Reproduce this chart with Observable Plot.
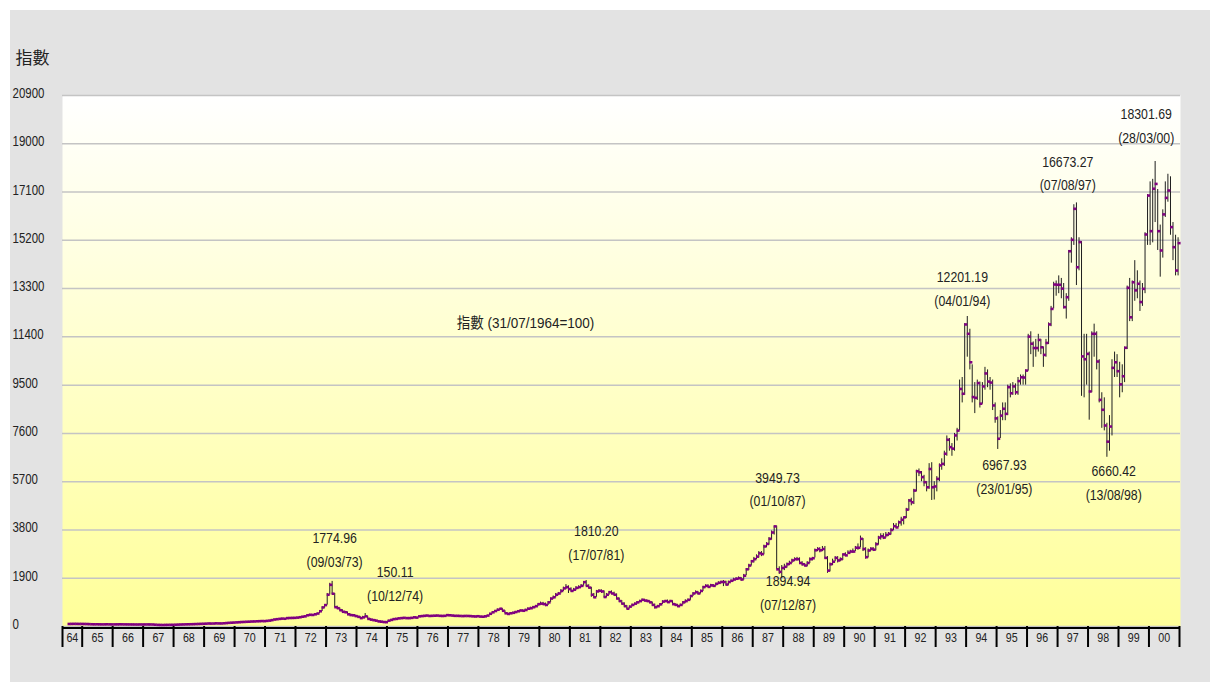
<!DOCTYPE html>
<html><head><meta charset="utf-8">
<script src="https://cdn.jsdelivr.net/npm/d3@7"></script>
<script src="https://cdn.jsdelivr.net/npm/@observablehq/plot@0.6"></script>
<style>
body{margin:0;background:#fff;}
#panel{position:absolute;left:10px;top:10px;width:1200px;height:672px;background:#e3e3e3;overflow:hidden;}
</style></head><body>
<svg width="0" height="0" style="position:absolute"><defs><linearGradient id="bgGrad" x1="0" y1="0" x2="0" y2="1"><stop offset="0%" stop-color="#ffffff"/><stop offset="100%" stop-color="#ffff99"/></linearGradient></defs></svg>
<div id="panel"></div>
<script>
const FONT = '"Liberation Sans Narrow","Arial Narrow","Liberation Sans","Noto Sans CJK TC",sans-serif';
const startYear = 1964, startMonth = 7; // first monthly bar: July 1964

const close = [
100,102,104,103,101,101,
99,97,93,88,86,87,85,83,84,86,84,82,
83,84,86,85,83,82,81,80,79,78,80,79,
80,81,80,78,70,64,61,59,62,64,65,66,
70,74,78,81,84,87,89,92,96,100,104,107,
112,118,115,117,124,121,120,126,135,144,150,155,
162,168,176,180,186,190,196,199,205,209,214,211,
222,232,251,275,288,300,310,305,330,335,338,341,
350,365,385,400,440,460,455,480,510,600,750,843,
1250,1640,1290,760,720,640,580,560,480,450,440,410,
380,330,360,400,300,270,250,230,200,190,175,171,
230,260,290,300,320,330,340,330,330,340,360,350,
400,410,420,430,415,420,425,430,420,415,420,447,
440,430,420,420,415,410,415,415,410,400,395,404,
390,385,400,430,500,560,610,660,700,620,520,495,
520,540,570,600,630,620,650,700,720,760,800,879,
900,880,850,950,1100,1150,1250,1300,1400,1500,1550,1473,
1400,1450,1520,1550,1600,1745,1600,1530,1250,1150,1380,1405,
1380,1160,1250,1350,1300,1250,1100,1000,900,800,700,783,
850,900,950,1000,1050,1020,1000,950,850,760,800,874,
980,1000,960,1000,880,850,800,850,950,1000,1050,1200,
1300,1350,1300,1400,1550,1600,1560,1620,1600,1680,1720,1752,
1750,1650,1750,1800,1850,1880,1900,1850,2000,2250,2400,2568,
2650,2750,2880,2850,3150,3250,3450,3700,3940,2250,2150,2302,
2350,2450,2500,2600,2650,2650,2500,2450,2400,2500,2650,2687,
3000,3050,3000,3050,2700,2200,2450,2550,2700,2600,2650,2837,
2800,2900,2950,2950,3100,3100,3450,3050,2730,2990,3060,3024,
3240,3500,3550,3500,3600,3650,3800,3950,3900,4100,4200,4297,
4600,4960,4890,5350,6110,6070,5880,5680,5480,6200,5480,5512,
5810,6340,6400,6800,7350,7060,7000,7520,7710,9350,9160,11888,
11520,10400,9030,9000,9580,8770,9450,9960,9640,9600,8700,8191,
7390,8300,8570,8370,9420,9180,9450,9220,9660,9810,9800,10073,
11410,11130,10960,10960,11280,10990,10690,11160,11890,12500,13460,13451,
13450,13300,12570,12960,14770,15220,16440,14140,15130,10630,10520,10730,
9250,11520,11520,10430,8920,8530,7910,7275,7870,10180,10400,10049,
9530,9850,10970,13330,12170,13550,13230,13490,12770,13290,15430,16962,
15560,17230,17420,15560,14800,16220,16870,17160,15720,14930,14010,15090
];

const high = [
100,103,105,105,103,103,
102,100,98,94,90,89,88,86,86,88,87,85,
85,86,88,88,86,84,83,82,81,80,82,81,
82,83,82,81,79,71,66,62,64,66,67,68,
72,76,80,83,86,89,91,94,98,102,106,109,
115,121,120,119,127,126,123,128,138,147,153,158,
166,172,180,184,190,194,200,203,209,213,218,216,
228,238,258,285,295,308,318,315,338,345,348,350,
358,375,395,412,455,480,470,495,525,620,770,860,
1300,1700,1775,1300,800,730,660,600,570,500,470,450,
420,385,400,510,400,310,280,260,235,215,200,185,
240,270,300,320,335,345,355,345,345,355,370,365,
410,420,430,440,430,430,435,440,430,425,430,450,
450,445,430,430,425,420,425,425,420,412,405,410,
405,395,410,440,520,580,630,690,707,700,620,530,
540,560,590,620,650,650,680,730,760,790,830,890,
960,950,920,980,1120,1200,1300,1340,1450,1550,1650,1600,
1520,1500,1570,1600,1650,1770,1810,1640,1540,1300,1420,1450,
1440,1400,1300,1380,1400,1350,1280,1120,1020,930,820,800,
880,920,980,1030,1080,1070,1040,1010,960,880,830,900,
1010,1030,1040,1030,1010,900,860,880,980,1050,1080,1210,
1330,1400,1380,1430,1580,1640,1640,1660,1650,1700,1760,1780,
1810,1780,1780,1830,1900,1920,1950,1930,2050,2280,2450,2600,
2720,2820,2950,2950,3200,3300,3500,3760,3950,3950,2350,2400,
2450,2500,2570,2650,2700,2720,2700,2550,2480,2550,2700,2720,
3050,3100,3100,3150,3150,2750,2500,2650,2750,2750,2700,2850,
2900,2980,3000,3050,3150,3250,3560,3460,3100,3050,3100,3100,
3300,3550,3650,3650,3700,3700,3850,4050,4050,4150,4300,4300,
4650,5000,5050,5400,6150,6200,6100,5950,5700,6410,6447,5700,
5900,6400,6600,6900,7500,7400,7200,7600,7800,9700,9800,11920,
12201,11700,10300,9600,9700,9620,9600,10200,10100,9800,9700,8800,
8250,8500,8800,8800,9500,9550,9600,9550,9800,9900,9900,10100,
11500,11600,11200,11300,11500,11300,11000,11300,11950,12600,13550,13600,
13800,13700,13500,13100,14800,15300,16600,16673,15300,15150,11500,11500,
10800,11600,11900,11600,10500,9200,9000,8000,8300,10500,10800,10700,
10400,10300,11000,13400,13700,13600,14400,14000,13600,13500,15500,17000,
17500,17600,18302,17200,15800,16400,17500,17800,17700,15900,15400,15300
];

const low = [
100,100,102,101,100,99,
97,95,91,86,84,84,83,81,82,83,82,80,
81,82,83,83,81,80,79,78,77,76,77,77,
78,79,78,76,68,62,59,58,59,61,63,64,
65,69,73,77,80,83,86,88,91,95,99,102,
106,110,112,113,116,118,117,119,126,134,142,148,
154,160,166,174,178,184,189,194,198,203,207,205,
208,220,230,250,272,285,298,295,302,320,328,330,
338,345,362,380,395,435,440,450,475,505,590,720,
843,1240,1250,740,680,600,560,520,460,420,410,390,
360,315,320,355,290,260,240,220,190,175,160,150,
170,225,250,280,295,315,320,320,318,325,335,338,
350,395,405,415,405,410,415,418,410,405,410,415,
432,425,415,410,405,405,408,408,400,392,388,392,
384,375,385,398,430,500,560,600,650,590,500,480,
490,515,535,560,590,590,610,640,680,700,740,780,
850,830,780,830,940,1080,1130,1230,1290,1380,1450,1300,
1350,1370,1430,1480,1530,1590,1580,1480,1150,1100,1150,1330,
1300,1120,1130,1230,1270,1200,1060,950,850,760,676,690,
770,830,890,940,990,980,960,900,800,690,740,790,
870,960,920,950,860,800,746,790,840,920,1000,1030,
1180,1280,1250,1280,1380,1520,1520,1540,1540,1580,1650,1680,
1570,1600,1620,1740,1780,1830,1850,1780,1820,2000,2200,2380,
2500,2630,2700,2750,2820,3100,3200,3400,3600,2241,2050,1895,
2200,2300,2400,2480,2560,2580,2450,2380,2350,2350,2480,2580,
2700,2950,2900,2950,2650,2093,2150,2400,2550,2500,2550,2600,
2750,2850,2900,2880,2950,3000,3100,2950,2650,2700,2950,2950,
2980,3200,3400,3420,3480,3550,3600,3780,3850,3900,3950,4000,
4250,4550,4750,4800,5300,5900,5700,5500,5300,5400,4960,4978,
5300,5700,6150,6300,6700,6900,6700,6900,7300,7700,8800,9100,
10600,10100,8800,8380,8900,8600,8750,9300,9400,9300,8500,8000,
6968,7400,8100,8100,8300,9000,9100,9100,9100,9500,9500,9500,
10050,10700,10200,10600,10800,10700,10200,10600,11100,11800,12500,13000,
13100,12900,12500,12100,12800,14300,15000,13420,14000,9059,9000,9500,
8121,9200,10600,10100,8800,7800,7700,6660,6900,7500,9800,9800,
9000,9200,9600,10900,12000,12000,12800,12900,12400,12600,13100,15000,
15000,15100,15900,14800,13750,14500,16100,16700,15400,14400,13800,13800
];

const yTicks = [0,1900,3800,5700,7600,9500,11400,13300,15200,17100,19000,20900];
const yearLabels = ["64","65","66","67","68","69","70","71","72","73","74","75","76","77","78","79","80","81","82","83","84","85","86","87","88","89","90","91","92","93","94","95","96","97","98","99","00"];

const annDates = ["1973-03-09","1974-12-10","1981-07-17","1987-10-01","1987-12-07","1994-01-04","1995-01-23","1997-08-07","1998-08-13","2000-03-28"];
const annValues = [1774.96,150.11,1810.20,3949.73,1894.94,12201.19,6967.93,16673.27,6660.42,18301.69];

const titleText = "指數";
const baseText = "指數 (31/07/1964=100)";

// layout (label offsets in pixels relative to each annotated point)
const annOffsets = [[3,-34],[10,-41],[10,-40],[2,-39],[7,12],[-4,-30],[6,25],[-8,-32],[7,23],[-10,-38]];

const data = close.map((c, i) => ({
  date: new Date(Date.UTC(startYear, startMonth - 1 + i, 15)),
  close: c, high: high[i], low: low[i]
}));

const xStart = new Date(Date.UTC(1964, 4, 10));
const xEnd = new Date(Date.UTC(2001, 0, 13));
const yearTicks = [xStart];
for (let y = 1965; y <= 2001; y++) yearTicks.push(new Date(Date.UTC(y, 0, 1)));
const labelDates = yearLabels.map((_, i) => new Date((+yearTicks[i] + +yearTicks[i + 1]) / 2));

const fmtDate = d3.utcFormat("%d/%m/%y");
const ann = annDates.map((d, i) => ({date: new Date(d + "T00:00:00Z"), value: annValues[i]}));

const chart = Plot.plot({
  width: 1200,
  height: 660,
  marginTop: 85,
  marginBottom: 44,
  marginLeft: 52,
  marginRight: 30,
  style: {background: "transparent", fontFamily: FONT, color: "#222", overflow: "visible"},
  x: {type: "utc", domain: [xStart, xEnd], axis: null},
  y: {domain: [0, 20900], axis: null},
  marks: [
    Plot.frame({fill: "url(#bgGrad)", stroke: "none"}),
    Plot.gridY({ticks: yTicks, stroke: "#c4c4c4", strokeOpacity: 1, strokeWidth: 1.5}),
    Plot.ruleX(data, {x: "date", y1: "low", y2: "high", stroke: "#1e1e1e", strokeWidth: 1}),
    Plot.ruleY(data, {y: "close", x1: "date", x2: d => new Date(+d.date + 36 * 864e5), stroke: "#800080", strokeWidth: 2.6}),
    Plot.ruleY([0], {stroke: "#000", strokeWidth: 2, dy: 1.5}),
    Plot.axisX({ticks: yearTicks, tickSize: 21, tickFormat: () => "", stroke: "#000", strokeWidth: 2, label: null}),
    Plot.text(yearLabels, {x: (d, i) => labelDates[i], frameAnchor: "bottom", lineAnchor: "middle", dy: 11, fontSize: 13, fill: "#222"}),
    Plot.text(yTicks, {y: d => d, text: d => String(d), frameAnchor: "left", dx: -50, dy: -2, textAnchor: "start", fontSize: 14, fill: "#222"}),
    Plot.text([titleText], {frameAnchor: "top-left", dx: -47, dy: -37, textAnchor: "start", lineAnchor: "middle", fontSize: 17, fill: "#222"}),
    Plot.text([baseText], {frameAnchor: "top-left", dx: 463, dy: 228, textAnchor: "middle", lineAnchor: "middle", fontSize: 15, fill: "#222"}),
    ...ann.map((a, i) => Plot.text([a], {
      x: "date", y: "value",
      text: d => `${d.value.toFixed(2)}\n(${fmtDate(d.date)})`,
      dx: annOffsets[i][0], dy: annOffsets[i][1],
      fontSize: 15, lineHeight: 1.57, fill: "#222"
    }))
  ]
});
document.getElementById("panel").appendChild(chart);

// emulate the narrow typeface of the original (Arial Narrow) when no narrow font is installed
const probe = document.createElement("canvas").getContext("2d");
probe.font = '15px "Liberation Sans Narrow", monospace';
const wNarrow = probe.measureText("0000000000").width;
probe.font = '15px "Liberation Sans"';
const wWide = probe.measureText("0000000000").width;
if (!(wNarrow < wWide * 0.9)) {
  chart.querySelectorAll("text").forEach(t => {
    const s = t.textContent;
    if (s === titleText) return;
    const k = /[\u4e00-\u9fff]/.test(s) ? 0.9 : 0.82;
    const spans = t.querySelectorAll("tspan");
    const els = spans.length ? Array.from(spans) : [t];
    els.forEach(el => {
      const L = el.getComputedTextLength();
      if (L > 0) {
        el.setAttribute("textLength", (L * k).toFixed(1));
        el.setAttribute("lengthAdjust", "spacingAndGlyphs");
      }
    });
  });
}
</script>
</body></html>
